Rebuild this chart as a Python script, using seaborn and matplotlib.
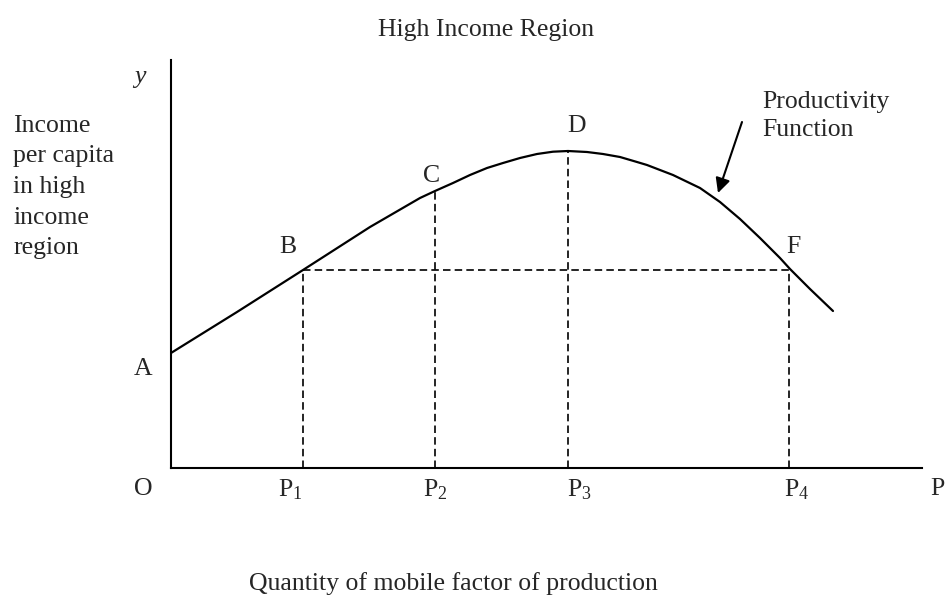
import numpy as np
import pandas as pd
import matplotlib
matplotlib.use("Agg")
import matplotlib.pyplot as plt
import seaborn as sns

# productivity curve (x = quantity, y = income per capita)
curve_x = [0.00, 0.66, 1.32, 1.99, 2.49, 2.64, 2.82, 2.99, 3.16, 3.32, 3.49, 3.66, 3.82, 3.97,
           4.16, 4.32, 4.49, 4.66, 4.76, 5.02, 5.29, 5.49, 5.69, 5.89, 6.09, 6.19, 6.39, 6.62]
curve_y = [1.15, 1.56, 1.98, 2.41, 2.70, 2.77, 2.85, 2.93, 3.00, 3.05, 3.10, 3.14, 3.163, 3.17,
           3.16, 3.14, 3.11, 3.06, 3.03, 2.93, 2.80, 2.66, 2.49, 2.30, 2.10, 1.99, 1.79, 1.57]

# marked points on the curve
p_names = ["P$_1$", "P$_2$", "P$_3$", "P$_4$"]
p_x = [1.32, 2.64, 3.97, 6.18]
p_y = [1.98, 2.77, 3.17, 1.98]
pt_names = ["B", "C", "D", "F"]
level_y = 1.98   # B and F share this income level

ylabel_lines = ["Income", "per capita", "in high", "income", "region"]

sns.set_style("white")
plt.rcParams["font.family"] = ["Liberation Serif", "DejaVu Serif"]
plt.rcParams["mathtext.fontset"] = "custom"
plt.rcParams["mathtext.rm"] = "Liberation Serif"
plt.rcParams["mathtext.it"] = "Liberation Serif:italic"

W, H = 946, 595
fx = lambda px: px / W
fy = lambda py: 1 - py / H

fig = plt.figure(figsize=(W / 100, H / 100), dpi=100)
ax = fig.add_axes([fx(171), fy(468), 751 / W, 408 / H])

df = pd.DataFrame({"q": curve_x, "inc": curve_y})
sns.lineplot(data=df, x="q", y="inc", sort=False, color="black", lw=1.6, ax=ax)

dash = (0, (4.5, 2.5))
for x, y in zip(p_x, p_y):
    ax.plot([x, x], [0, y], color="black", lw=1.2, ls=dash)
ax.plot([p_x[0], p_x[3]], [level_y, level_y], color="black", lw=1.2, ls=dash)

ax.set_xlim(0, 7.51)
ax.set_ylim(0, 4.08)
ax.set_xticks([])
ax.set_yticks([])
ax.set_xlabel("")
ax.set_ylabel("")
sns.despine(ax=ax)
for s in ["left", "bottom"]:
    ax.spines[s].set_linewidth(1.5)
    ax.spines[s].set_color("black")

fs = 18.5
# arrow pointing at the curve
ax.annotate("", xy=((718 - 171) / 100, (468 - 193) / 100), xytext=((742 - 171) / 100, (468 - 122) / 100),
            arrowprops=dict(arrowstyle="-|>", color="black", lw=1.5, mutation_scale=22,
                            shrinkA=0, shrinkB=0))

# labels of points
pt_pos = [(288, 253), (432, 182), (577, 132), (793, 253)]
for name, (px, py) in zip(pt_names, pt_pos):
    fig.text(fx(px), fy(py), name, ha="center", va="baseline", fontsize=fs)

p_pos = [290, 435, 579, 797]
for name, px in zip(p_names, p_pos):
    fig.text(fx(px), fy(496), name, ha="center", va="baseline", fontsize=fs)

fig.text(fx(143), fy(375), "A", ha="center", va="baseline", fontsize=fs)
fig.text(fx(143), fy(495), "O", ha="center", va="baseline", fontsize=fs)
fig.text(fx(937), fy(495), "P", ha="center", va="baseline", fontsize=fs)
fig.text(fx(140), fy(83), "y", ha="center", va="baseline", fontsize=fs, style="italic")

fig.text(fx(486), fy(36), "High Income Region", ha="center", va="baseline", fontsize=fs)
fig.text(fx(453), fy(590), "Quantity of mobile factor of production", ha="center", va="baseline", fontsize=fs)

for i, line in enumerate(ylabel_lines):
    fig.text(fx(13), fy(132 + i * 30.5), line, ha="left", va="baseline", fontsize=fs)

fig.text(fx(762), fy(108), "Productivity", ha="left", va="baseline", fontsize=fs)
fig.text(fx(762), fy(136), "Function", ha="left", va="baseline", fontsize=fs)

fig.savefig("out.png", dpi=100)
